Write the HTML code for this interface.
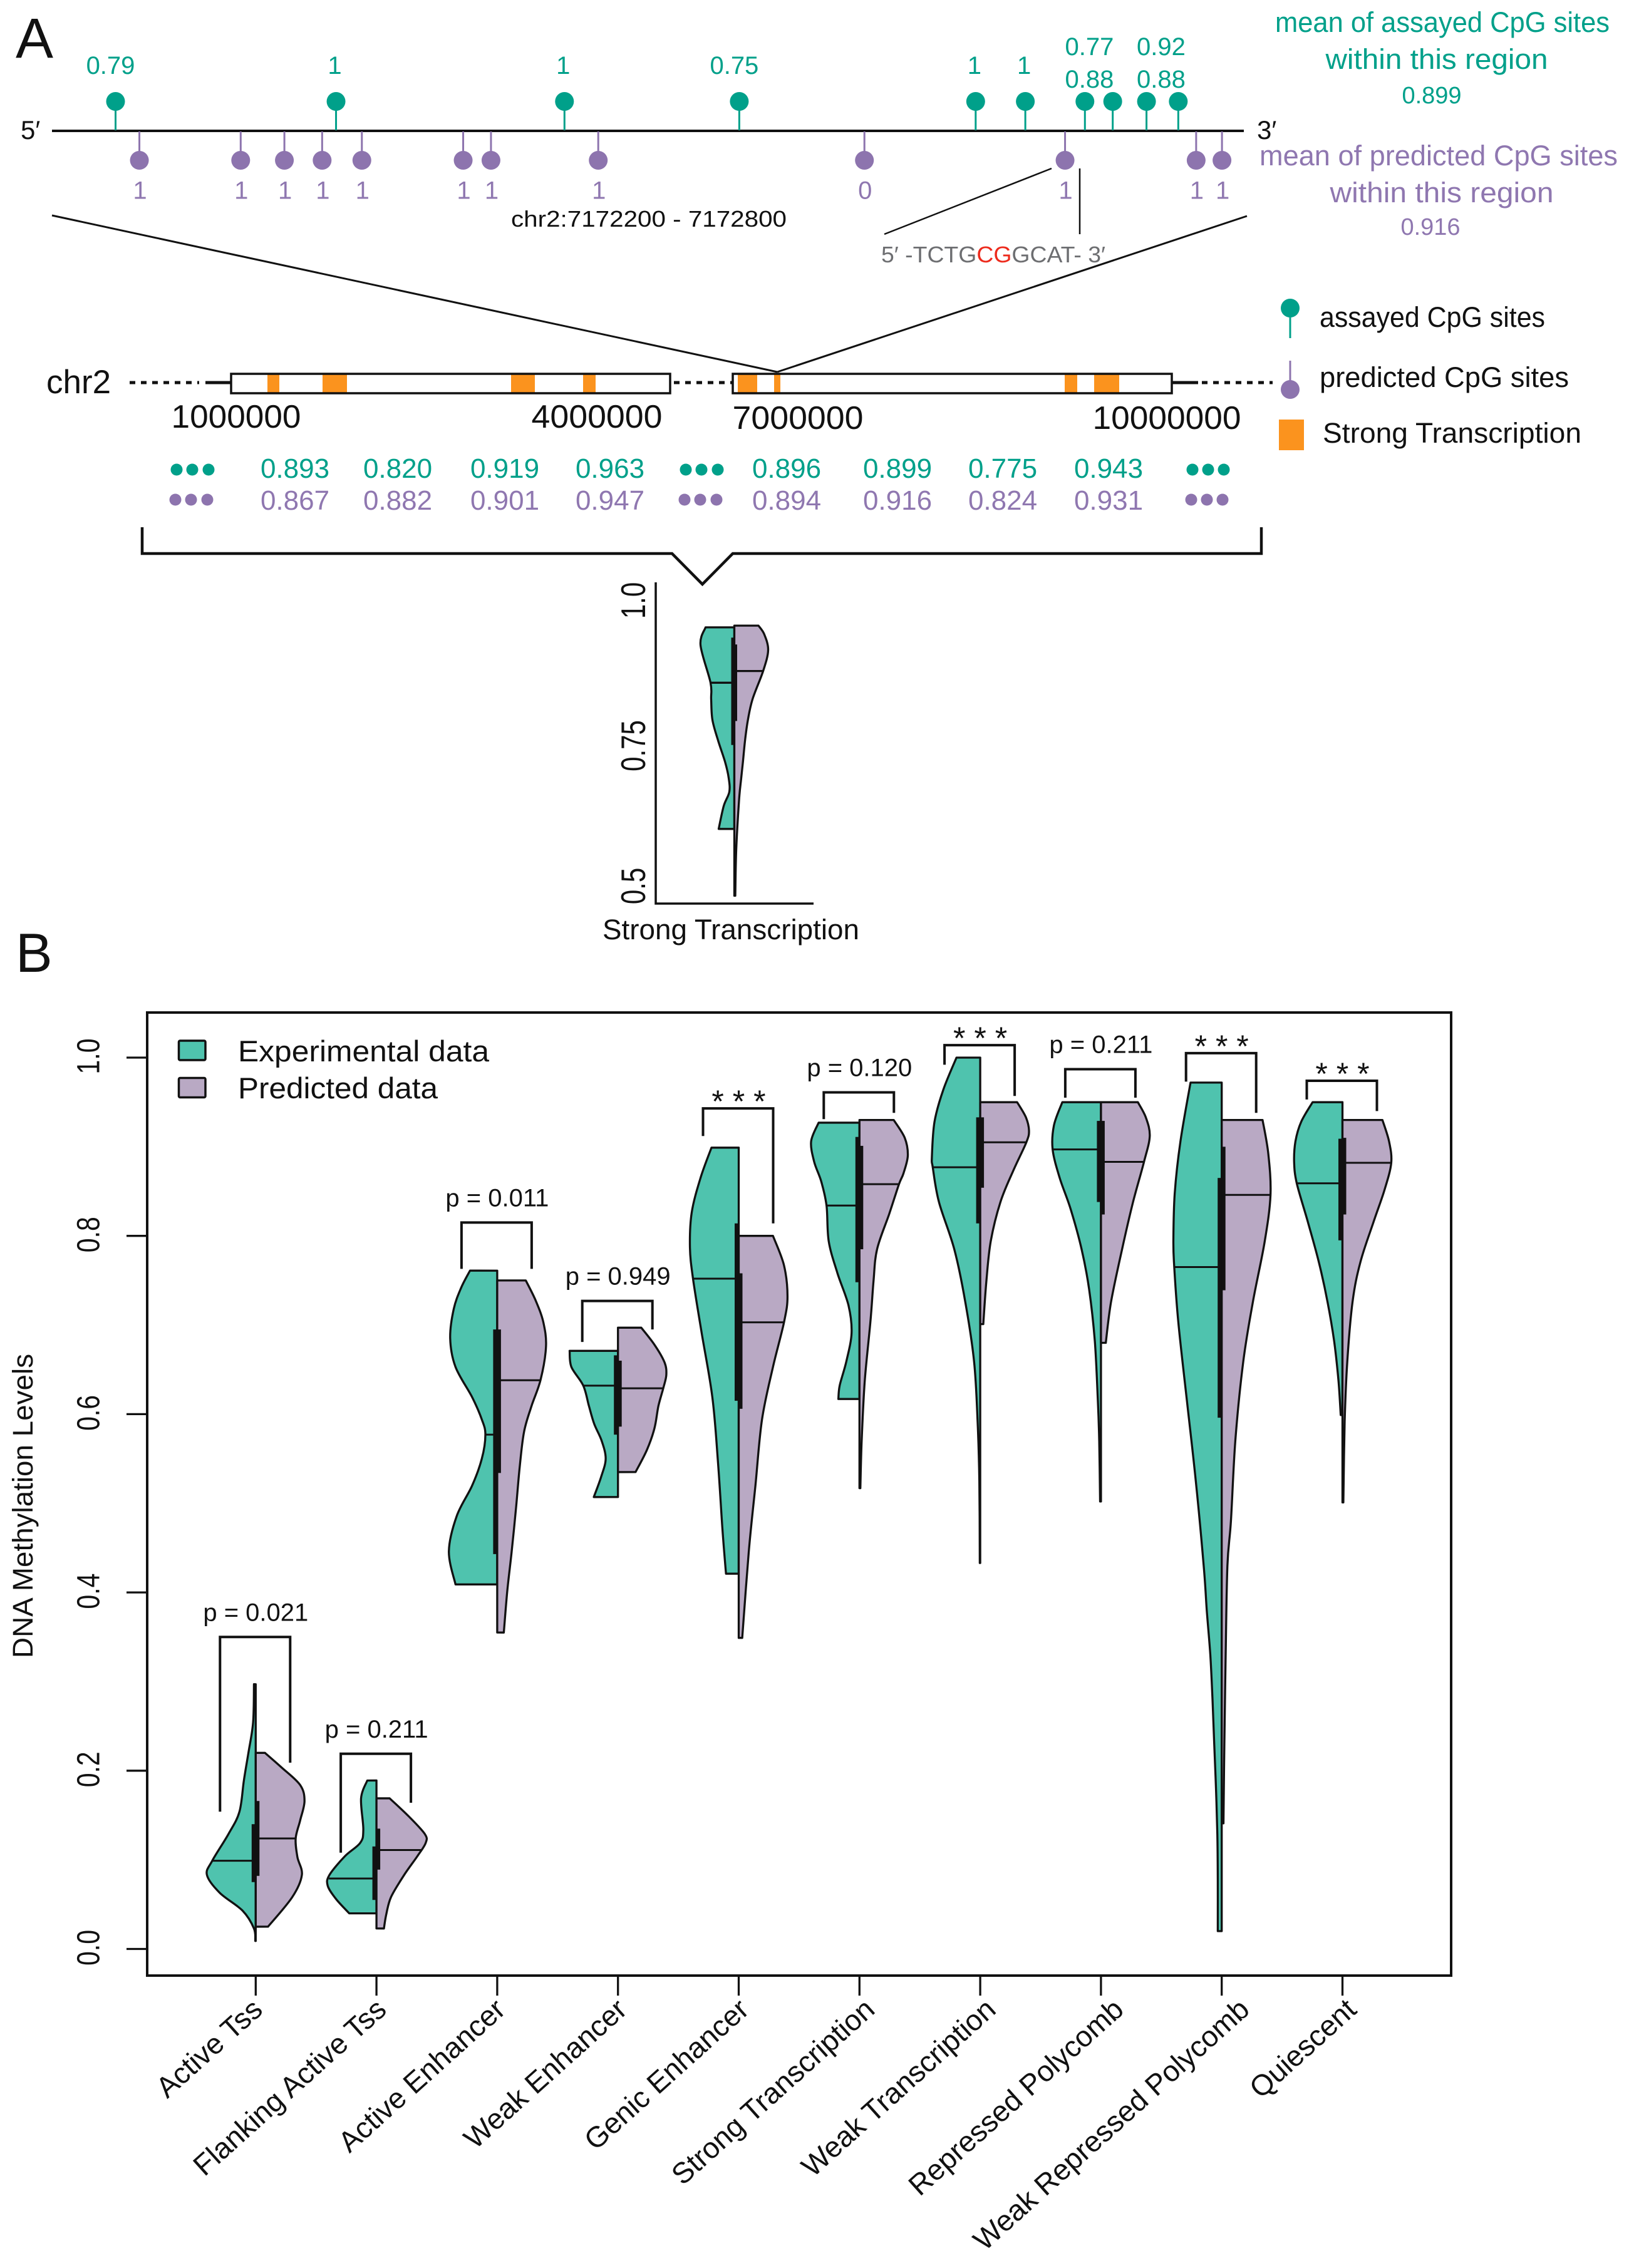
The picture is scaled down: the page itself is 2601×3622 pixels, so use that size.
<!DOCTYPE html>
<html>
<head>
<meta charset="utf-8">
<title>DNA methylation: assayed vs predicted CpG sites</title>
<style>
html,body{margin:0;padding:0;background:#fff;}
svg{display:block;}
text{font-family:"Liberation Sans",sans-serif;}
</style>
</head>
<body>
<svg id="fig" xmlns="http://www.w3.org/2000/svg" width="2601" height="3622" viewBox="0 0 2601 3622">
<rect x="0" y="0" width="2601" height="3622" fill="#fff"/>
<text x="25" y="92" font-size="90" fill="#111">A</text>
<text x="25" y="1552" font-size="88" fill="#111">B</text>

<g id="panelA">
<text x="33" y="222" font-size="42" fill="#111">5′</text>
<text x="2007" y="222" font-size="42" fill="#111">3′</text>
<line x1="83" y1="209" x2="1986" y2="209" stroke="#111" stroke-width="4"/>

<text x="2303" y="51" font-size="45" fill="#00a08a" text-anchor="middle" textLength="534" lengthAdjust="spacingAndGlyphs">mean of assayed CpG sites</text>
<text x="2294" y="110" font-size="45" fill="#00a08a" text-anchor="middle" textLength="355" lengthAdjust="spacingAndGlyphs">within this region</text>
<text x="2286" y="165" font-size="38" fill="#00a08a" text-anchor="middle">0.899</text>
<text x="2297" y="264" font-size="45" fill="#8f77b0" text-anchor="middle" textLength="572" lengthAdjust="spacingAndGlyphs">mean of predicted CpG sites</text>
<text x="2302" y="323" font-size="45" fill="#8f77b0" text-anchor="middle" textLength="357" lengthAdjust="spacingAndGlyphs">within this region</text>
<text x="2284" y="375" font-size="38" fill="#8f77b0" text-anchor="middle">0.916</text>

<text x="1036" y="362" font-size="36" fill="#111" text-anchor="middle" textLength="440" lengthAdjust="spacingAndGlyphs">chr2:7172200 - 7172800</text>
<line x1="83" y1="344" x2="1241" y2="594" stroke="#111" stroke-width="3"/>
<line x1="1991" y1="345" x2="1241" y2="594" stroke="#111" stroke-width="3"/>
<line x1="1679" y1="269" x2="1412" y2="374" stroke="#111" stroke-width="2.5"/>
<line x1="1724" y1="269" x2="1724" y2="374" stroke="#111" stroke-width="2.5"/>
<text x="1407" y="419" font-size="36" fill="#6d6e71" textLength="358" lengthAdjust="spacingAndGlyphs">5′ -TCTG<tspan fill="#ed2a1c">CG</tspan>GCAT- 3′</text>

<text x="74" y="628" font-size="53" fill="#111">chr2</text>
<line x1="207" y1="611" x2="318" y2="611" stroke="#111" stroke-width="5" stroke-dasharray="9 9"/>
<line x1="328" y1="611" x2="368" y2="611" stroke="#111" stroke-width="5"/>
<line x1="1076" y1="611" x2="1170" y2="611" stroke="#111" stroke-width="5" stroke-dasharray="9 9"/>
<line x1="1871" y1="611" x2="1913" y2="611" stroke="#111" stroke-width="5"/>
<line x1="1919" y1="611" x2="2032" y2="611" stroke="#111" stroke-width="5" stroke-dasharray="9 9"/>
<g id="chrTracks"></g>

<text x="377" y="683" font-size="52" fill="#111" text-anchor="middle" textLength="207" lengthAdjust="spacingAndGlyphs">1000000</text>
<text x="953" y="683" font-size="52" fill="#111" text-anchor="middle" textLength="209" lengthAdjust="spacingAndGlyphs">4000000</text>
<text x="1274" y="685" font-size="52" fill="#111" text-anchor="middle" textLength="209" lengthAdjust="spacingAndGlyphs">7000000</text>
<text x="1863" y="685" font-size="52" fill="#111" text-anchor="middle" textLength="237" lengthAdjust="spacingAndGlyphs">10000000</text>

<g>
<line x1="2060" y1="492" x2="2060" y2="540" stroke="#00a08a" stroke-width="3"/>
<circle cx="2060" cy="492" r="15" fill="#00a08a"/>
<text x="2107" y="522" font-size="45" fill="#111" textLength="360" lengthAdjust="spacingAndGlyphs">assayed CpG sites</text>
<line x1="2060" y1="576" x2="2060" y2="622" stroke="#8d74ae" stroke-width="3"/>
<circle cx="2060" cy="622" r="15" fill="#8d74ae"/>
<text x="2107" y="618" font-size="45" fill="#111" textLength="398" lengthAdjust="spacingAndGlyphs">predicted CpG sites</text>
<rect x="2042" y="670" width="40" height="49" fill="#fb931e"/>
<text x="2112" y="707" font-size="45" fill="#111" textLength="413" lengthAdjust="spacingAndGlyphs">Strong Transcription</text>
</g>

<path d="M227 842 V884 H1073 L1121.5 933 L1170 884 H2014 V842" fill="none" stroke="#111" stroke-width="4.5"/>
<path d="M1047 930 V1443 H1299" fill="none" stroke="#111" stroke-width="3.5"/>
<text transform="translate(1030,959) rotate(-90) scale(1,1.3)" font-size="42" fill="#111" text-anchor="middle">1.0</text>
<text transform="translate(1030,1191) rotate(-90) scale(1,1.3)" font-size="42" fill="#111" text-anchor="middle">0.75</text>
<text transform="translate(1030,1415) rotate(-90) scale(1,1.3)" font-size="42" fill="#111" text-anchor="middle">0.5</text>
<text x="1167" y="1500" font-size="45" fill="#111" text-anchor="middle" textLength="410" lengthAdjust="spacingAndGlyphs">Strong Transcription</text>
<g id="lollipops"></g>
<g id="rows"></g>
<g id="inset"></g>
</g>

<g id="panelB">
<rect x="235" y="1617" width="2082" height="1538" fill="none" stroke="#111" stroke-width="4"/>
<g id="axes"></g>
<g id="violins"></g>
<g id="brackets"></g>
<text transform="translate(52,2405) rotate(-90)" font-size="45" fill="#111" text-anchor="middle" textLength="486" lengthAdjust="spacingAndGlyphs">DNA Methylation Levels</text>
<rect x="285.5" y="1662" width="42.5" height="31" rx="2" fill="#4fc3ae" stroke="#111" stroke-width="3.5"/>
<rect x="285.5" y="1721.5" width="42.5" height="31" rx="2" fill="#b9a9c4" stroke="#111" stroke-width="3.5"/>
<text x="380" y="1695" font-size="47" fill="#111" textLength="401" lengthAdjust="spacingAndGlyphs">Experimental data</text>
<text x="380" y="1754" font-size="47" fill="#111" textLength="319" lengthAdjust="spacingAndGlyphs">Predicted data</text>
</g>
</svg>

<script>
// ---------- Panel A data ----------
const assayedSites = [7172232,7172343,7172458,7172546,7172665,7172690,7172720,7172734,7172751,7172767];
const assayedValues = ['0.79','1','1','0.75','1','1','0.77','0.88','0.92','0.88'];
const predictedSites = [7172244,7172295,7172317,7172336,7172356,7172407,7172421,7172475,7172609,7172710,7172776,7172789];
const predictedValues = ['1','1','1','1','1','1','1','1','0','1','1','1'];
const assayedMeans = ['0.893','0.820','0.919','0.963','0.896','0.899','0.775','0.943'];
const predictedMeans = ['0.867','0.882','0.901','0.947','0.894','0.916','0.824','0.931'];

// inset violin (Strong Transcription, chr2)
const insetExpLevels = [.953,.922,.856,.827,.791,.754,.717,.689,.665,.640,.600];
const insetExpDensity = [.46,.54,.38,.37,.35,.257,.147,.09,.08,.17,.25];
const insetPredLevels = [.956,.941,.913,.8765,.827,.791,.754,.717,.689,.650,.563,.483];
const insetPredDensity = [.385,.477,.54,.46,.29,.217,.17,.137,.11,.075,.03,.015];
const insetMedians = [.856,.8765];
const insetExpBox = [.747,.935];
const insetPredBox = [.789,.923];

// ---------- Panel B data ----------
const categories = ['Active Tss','Flanking Active Tss','Active Enhancer','Weak Enhancer','Genic Enhancer','Strong Transcription','Weak Transcription','Repressed Polycomb','Weak Repressed Polycomb','Quiescent'];
const yTicks = [0,0.2,0.4,0.6,0.8,1.0];
const yTickLabels = ['0.0','0.2','0.4','0.6','0.8','1.0'];

const expLevels = [
 [.297,.254,.219,.189,.154,.129,.099,.083,.063,.043,.023,.009],
 [.189,.169,.134,.119,.104,.083,.071,.056,.040],
 [.761,.742,.718,.685,.653,.619,.594,.577,.550,.520,.486,.446,.409],
 [.671,.653,.632,.609,.589,.570,.550,.530,.507],
 [.899,.865,.826,.787,.752,.693,.619,.545,.471,.421],
 [.927,.906,.883,.861,.834,.794,.758,.722,.691,.659,.632,.617],
 [1.000,.964,.928,.888,.877,.838,.785,.726,.659,.592,.525,.433],
 [.950,.924,.897,.865,.830,.785,.740,.682,.614,.570,.502],
 [.972,.906,.847,.794,.765,.704,.614,.525,.430,.380,.330,.280,.229,.179,.129,.078,.020],
 [.950,.928,.906,.883,.859,.816,.771,.726,.682,.637,.599]
];
const expDensity = [
 [.04,.06,.17,.27,.37,.62,.99,1.11,.82,.30,.04,.01],
 [.21,.35,.30,.37,.72,1.07,1.11,.92,.62],
 [.62,.82,.99,1.07,.95,.57,.35,.27,.35,.57,.92,1.10,.95],
 [1.10,1.06,.79,.66,.54,.37,.28,.38,.55],
 [.62,.87,1.07,1.11,1.04,.85,.60,.47,.37,.29],
 [.93,1.10,1.03,.87,.75,.70,.50,.25,.18,.30,.45,.48],
 [.54,.84,1.04,1.10,1.08,.94,.59,.34,.14,.06,.02,.01],
 [.88,1.07,1.10,.94,.69,.44,.27,.14,.07,.04,.02],
 [.71,.94,1.07,1.10,1.08,.99,.79,.59,.41,.34,.26,.21,.17,.13,.10,.09,.09],
 [.68,.94,1.07,1.10,1.04,.79,.54,.34,.19,.09,.04]
];
const predLevels = [
 [.220,.204,.184,.166,.144,.124,.103,.083,.058,.025],
 [.169,.149,.129,.119,.104,.083,.058,.038,.023],
 [.750,.727,.703,.676,.639,.609,.580,.540,.496,.446,.402,.355],
 [.697,.678,.658,.644,.629,.609,.584,.560,.535],
 [.800,.767,.732,.703,.653,.594,.520,.446,.349],
 [.930,.910,.890,.870,.858,.825,.785,.749,.704,.637,.570,.517],
 [.950,.933,.918,.905,.874,.838,.794,.749,.701],
 [.950,.933,.912,.883,.838,.785,.726,.680],
 [.930,.892,.846,.794,.726,.659,.570,.480,.430,.330,.229,.141],
 [.930,.906,.882,.852,.816,.771,.726,.659,.592,.501]
];
const predDensity = [
 [.21,.58,1.01,1.11,1.01,.91,.95,1.05,.83,.28],
 [.30,.73,1.10,1.12,.93,.63,.33,.22,.17],
 [.65,.88,1.05,1.11,.99,.78,.61,.51,.43,.33,.23,.15],
 [.53,.83,1.06,1.10,1.03,.92,.83,.66,.40],
 [.78,1.03,1.11,1.03,.78,.53,.38,.23,.08],
 [.78,1.03,1.10,1.00,.90,.68,.40,.32,.25,.12,.05,.02],
 [.84,1.04,1.11,1.05,.76,.46,.24,.14,.07],
 [.84,1.02,1.11,.98,.73,.48,.23,.11],
 [.93,1.06,1.11,.98,.71,.49,.31,.21,.13,.09,.06,.04],
 [.91,1.06,1.11,.96,.71,.41,.23,.11,.05,.02]
];
const expMedians = [.099,.079,.577,.632,.752,.834,.877,.897,.765,.859];
const predMedians = [.124,.111,.638,.629,.703,.858,.905,.883,.846,.882];
const expQ1 = [.075,.055,.443,.577,.615,.748,.814,.838,.596,.795];
const expQ3 = [.140,.115,.695,.666,.814,.911,.933,.929,.865,.909];
const predQ1 = [.082,.089,.534,.586,.606,.785,.854,.824,.739,.824];
const predQ3 = [.166,.135,.695,.660,.758,.901,.933,.929,.900,.910];

const significanceLabels = ['p = 0.021','p = 0.211','p = 0.011','p = 0.949','* * *','p = 0.120','* * *','p = 0.211','* * *','* * *'];
const bracketTops = [.350,.219,.815,.727,.943,.961,1.014,.987,1.005,.974];
const bracketLeftEnds = [.154,.108,.763,.681,.912,.931,.992,.955,.973,.953];
const bracketRightEnds = [.209,.164,.763,.695,.814,.938,.957,.955,.938,.940];

// ---------- Scales and layout ----------
const NS = 'http://www.w3.org/2000/svg';
const xCat = i => 408.3 + 192.8 * i;
const yVal = v => 3112.5 - v * 1423.5;
const yInset = v => 959 + (1 - v) * 912;
const xSite = bp => 83 + (bp - 7172200) * 1903 / 600;
const MAIN_DENSITY_PX = 70.15;
const INSET_DENSITY_PX = 100;
const GREEN = '#00a08a', PURPLE = '#8d74ae', PURPLE_TEXT = '#8f77b0', TEAL = '#4fc3ae', LILAC = '#b9a9c4', INK = '#111';
const slug = s => s.toLowerCase().replace(/[^a-z0-9]+/g, '-');
const xLabelNudge = [13.6,18.5,15.7,17,19,27,27.6,39,47,25];

function make(tag, attrs, parent, content) {
  const el = document.createElementNS(NS, tag);
  for (const k in attrs) el.setAttribute(k, attrs[k]);
  if (content !== undefined) el.textContent = content;
  parent.appendChild(el);
  return el;
}

function smoothEdge(pts) {
  let d = '';
  for (let i = 0; i < pts.length - 1; i++) {
    const p0 = pts[Math.max(i - 1, 0)], p1 = pts[i], p2 = pts[i + 1], p3 = pts[Math.min(i + 2, pts.length - 1)];
    const c1x = p1[0] + (p2[0] - p0[0]) / 6, c1y = p1[1] + (p2[1] - p0[1]) / 6;
    const c2x = p2[0] - (p3[0] - p1[0]) / 6, c2y = p2[1] - (p3[1] - p1[1]) / 6;
    d += ' C' + c1x.toFixed(1) + ' ' + c1y.toFixed(1) + ' ' + c2x.toFixed(1) + ' ' + c2y.toFixed(1) + ' ' + p2[0].toFixed(1) + ' ' + p2[1].toFixed(1);
  }
  return d;
}

function densityAt(levels, density, v) {
  for (let i = 0; i < levels.length - 1; i++) {
    if (v <= levels[i] && v >= levels[i + 1]) {
      const t = (levels[i] - v) / (levels[i] - levels[i + 1]);
      return density[i] + t * (density[i + 1] - density[i]);
    }
  }
  return 0;
}

function violinPath(cx, side, levels, density, yFn, px) {
  const pts = levels.map((v, i) => [cx + side * density[i] * px, yFn(v)]);
  const top = yFn(levels[0]), bot = yFn(levels[levels.length - 1]);
  return 'M' + cx + ' ' + top + ' L' + pts[0][0].toFixed(1) + ' ' + pts[0][1].toFixed(1) + smoothEdge(pts) + ' L' + cx + ' ' + bot + ' Z';
}

// ---------- Panel A drawing ----------
const lolli = document.getElementById('lollipops');
assayedSites.forEach((bp, i) => {
  const x = xSite(bp);
  const stem = make('line', {x1: x, y1: 162, x2: x, y2: 208, stroke: GREEN, 'stroke-width': 3}, lolli);
  
  
  const head = make('circle', {cx: x, cy: 162, r: 15, fill: GREEN}, lolli);
  
  
  let lx = x + (assayedValues[i] === '1' ? -2 : -8), ly = 118;
  if (i >= 6) {
    const pair = Math.floor((i - 6) / 2);
    const a = xSite(assayedSites[6 + pair * 2]), b = xSite(assayedSites[7 + pair * 2]);
    lx = (a + b) / 2 + (pair === 0 ? -15 : -2);
    ly = (i - 6) % 2 === 0 ? 88 : 140;
  }
  const t = make('text', {x: lx, y: ly, 'font-size': 40, fill: GREEN, 'text-anchor': 'middle'}, lolli, assayedValues[i]);
  
  
});
predictedSites.forEach((bp, i) => {
  const x = xSite(bp);
  const stem = make('line', {x1: x, y1: 210, x2: x, y2: 256, stroke: PURPLE, 'stroke-width': 3}, lolli);
  
  
  const head = make('circle', {cx: x, cy: 256, r: 15, fill: PURPLE}, lolli);
  
  
  const t = make('text', {x: x + 1, y: 317.5, 'font-size': 40, fill: PURPLE_TEXT, 'text-anchor': 'middle'}, lolli, predictedValues[i]);
  
  
});

// chromosome tracks
const chr = document.getElementById('chrTracks');
const trackSpans = [[369,1070],[1170,1871]];
const strongSpans = [[427,446],[515,554],[816,854],[931,951],[1178,1209],[1236,1246],[1700,1720],[1747,1787]];
trackSpans.forEach(s => {
  const r = make('rect', {x: s[0], y: 597, width: s[1] - s[0], height: 31, fill: '#fff', stroke: 'none'}, chr);
  
  
});
strongSpans.forEach(s => {
  const r = make('rect', {x: s[0], y: 597, width: s[1] - s[0], height: 31, fill: '#fb931e'}, chr);
  
  
});
trackSpans.forEach(s => {
  const r = make('rect', {x: s[0], y: 597, width: s[1] - s[0], height: 31, fill: 'none', stroke: INK, 'stroke-width': 3.5}, chr);
  
  
});

// region mean rows
const rows = document.getElementById('rows');
const rowCenters = [471,635,806,974,1256,1433,1601,1770];
const dotGroups = [[282,307,333],[1095,1120,1146],[1904,1929,1954]];
assayedMeans.forEach((m, i) => {
  const t = make('text', {x: rowCenters[i], y: 763, 'font-size': 44, fill: GREEN, 'text-anchor': 'middle'}, rows, m);
  
  
});
predictedMeans.forEach((m, i) => {
  const t = make('text', {x: rowCenters[i], y: 814, 'font-size': 44, fill: PURPLE_TEXT, 'text-anchor': 'middle'}, rows, m);
  
  
});
dotGroups.forEach(g => g.forEach(x => {
  const a = make('circle', {cx: x, cy: 750, r: 9.5, fill: GREEN}, rows);
  
  
  const b = make('circle', {cx: x - 2, cy: 798, r: 9.5, fill: PURPLE}, rows);
  
  
}));

// inset violin
const inset = document.getElementById('inset');
const insetCx = 1172.5;
const insetExp = make('path', {d: violinPath(insetCx, -1, insetExpLevels, insetExpDensity, yInset, INSET_DENSITY_PX), fill: TEAL, stroke: INK, 'stroke-width': 3.3, 'stroke-linejoin': 'round'}, inset);


const insetPred = make('path', {d: violinPath(insetCx, 1, insetPredLevels, insetPredDensity, yInset, INSET_DENSITY_PX), fill: LILAC, stroke: INK, 'stroke-width': 3.3, 'stroke-linejoin': 'round'}, inset);


const insetMedExp = make('line', {x1: insetCx, x2: insetCx - densityAt(insetExpLevels, insetExpDensity, insetMedians[0]) * INSET_DENSITY_PX, y1: yInset(insetMedians[0]), y2: yInset(insetMedians[0]), stroke: INK, 'stroke-width': 3.3}, inset);


const insetMedPred = make('line', {x1: insetCx, x2: insetCx + densityAt(insetPredLevels, insetPredDensity, insetMedians[1]) * INSET_DENSITY_PX, y1: yInset(insetMedians[1]), y2: yInset(insetMedians[1]), stroke: INK, 'stroke-width': 3.3}, inset);


const insetBoxExp = make('rect', {x: insetCx - 5, y: yInset(insetExpBox[1]), width: 5, height: yInset(insetExpBox[0]) - yInset(insetExpBox[1]), fill: INK}, inset);


const insetBoxPred = make('rect', {x: insetCx, y: yInset(insetPredBox[1]), width: 4.5, height: yInset(insetPredBox[0]) - yInset(insetPredBox[1]), fill: INK}, inset);



// ---------- Panel B drawing ----------
const axes = document.getElementById('axes');
yTicks.forEach((v, i) => {
  const tick = make('line', {x1: 202, x2: 235, y1: yVal(v), y2: yVal(v), stroke: INK, 'stroke-width': 3.3}, axes);
  
  
  const lab = make('text', {transform: 'translate(158.5,' + (yVal(v) - 2) + ') rotate(-90) scale(1,1.25)', 'font-size': 41, fill: INK, 'text-anchor': 'middle'}, axes, yTickLabels[i]);
  
  
});
categories.forEach((c, i) => {
  const x = xCat(i);
  const tick = make('line', {x1: x, x2: x, y1: 3155, y2: 3187, stroke: INK, 'stroke-width': 3.3}, axes);
  
  
  const lab = make('text', {transform: 'translate(' + (x + xLabelNudge[i]) + ',3213) rotate(-42)', 'font-size': 46.5, fill: INK, 'text-anchor': 'end'}, axes, c);
  
  
});

const violins = document.getElementById('violins');
categories.forEach((c, i) => {
  const cx = xCat(i);
  const name = slug(c);
  const g = make('g', {}, violins);
  
  
  const left = make('path', {d: violinPath(cx, -1, expLevels[i], expDensity[i], yVal, MAIN_DENSITY_PX), fill: TEAL, stroke: INK, 'stroke-width': 3.3, 'stroke-linejoin': 'round'}, g);
  
  
  const right = make('path', {d: violinPath(cx, 1, predLevels[i], predDensity[i], yVal, MAIN_DENSITY_PX), fill: LILAC, stroke: INK, 'stroke-width': 3.3, 'stroke-linejoin': 'round'}, g);
  
  
  const medE = make('line', {x1: cx, x2: cx - densityAt(expLevels[i], expDensity[i], expMedians[i]) * MAIN_DENSITY_PX, y1: yVal(expMedians[i]), y2: yVal(expMedians[i]), stroke: INK, 'stroke-width': 3}, g);
  
  
  const medP = make('line', {x1: cx, x2: cx + densityAt(predLevels[i], predDensity[i], predMedians[i]) * MAIN_DENSITY_PX, y1: yVal(predMedians[i]), y2: yVal(predMedians[i]), stroke: INK, 'stroke-width': 3}, g);
  
  
  const boxE = make('rect', {x: cx - 6.5, y: yVal(expQ3[i]), width: 6.5, height: yVal(expQ1[i]) - yVal(expQ3[i]), fill: INK}, g);
  
  
  const boxP = make('rect', {x: cx, y: yVal(predQ3[i]), width: 6, height: yVal(predQ1[i]) - yVal(predQ3[i]), fill: INK}, g);
  
  
});

const brackets = document.getElementById('brackets');
significanceLabels.forEach((s, i) => {
  const cx = xCat(i), top = yVal(bracketTops[i]);
  const b = make('path', {d: 'M' + (cx - 57) + ' ' + yVal(bracketLeftEnds[i]) + ' V' + top + ' H' + (cx + 55) + ' V' + yVal(bracketRightEnds[i]), fill: 'none', stroke: INK, 'stroke-width': 4}, brackets);
  
  
  const stars = s.indexOf('*') >= 0;
  const t = make('text', {x: cx, y: stars ? top + 6 : top - 26, 'font-size': stars ? 50 : 40, fill: INK, 'text-anchor': 'middle'}, brackets, s);
  
  
});
</script>
</body>
</html>
